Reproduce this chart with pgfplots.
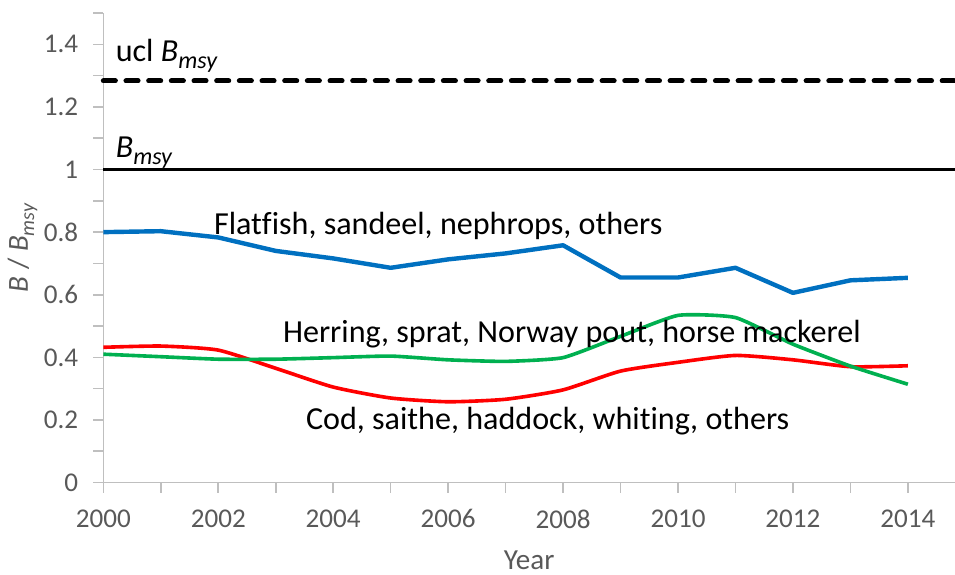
\documentclass[border=0pt]{standalone}
\usepackage{pgfplots}
\pgfplotsset{compat=1.18}
\usepackage{fontspec}
\setmainfont{Carlito}[Ligatures={NoCommon}]
\definecolor{tickgray}{HTML}{595959}
\definecolor{axgray}{HTML}{BFBFBF}
\definecolor{cblue}{HTML}{0070C0}
\definecolor{cred}{HTML}{FF0000}
\definecolor{cgreen}{HTML}{00B050}
\newcommand{\msy}[1]{\textit{B}\raisebox{-0.45ex}{\fontsize{#1}{#1}\selectfont\textit{msy}}}
\begin{document}
\begin{tikzpicture}
\begin{axis}[
  name=ax,
  scale only axis,
  width=424.5pt, height=234pt,
  xmin=2000, xmax=2014.82,
  ymin=0, ymax=1.5,
  axis lines=left,
  axis line style={axgray, line width=0.8pt, -},
  xtick={2000,2002,...,2014},
  minor xtick={2001,2003,...,2013},
  ytick={0,0.2,...,1.4},
  minor ytick={0.1,0.3,...,1.5},
  tick align=outside,
  major tick length=5pt, minor tick length=5pt,
  tick style={axgray, line width=0.8pt},
  xtick pos=bottom, ytick pos=left,
  /pgf/number format/assume math mode=true,
  /pgf/number format/1000 sep={},
  /pgf/number format/fixed,
  ticklabel style={font=\fontsize{13.5}{15}\selectfont, text=tickgray},
  yticklabel style={xshift=-4pt},
  xticklabel style={yshift=-5pt},
  xlabel={Year},
  ylabel={\textit{B} / \msy{10}},
  label style={font=\fontsize{14.5}{16}\selectfont, text=tickgray},
  xlabel style={at={(axis description cs:0.5,-0.165)}, anchor=center},
  ylabel style={at={(axis description cs:-0.095,0.5)}, anchor=center},
  clip=false,
]
\addplot[black, line width=2.5pt, line cap=round, dash pattern=on 6pt off 5.3pt] coordinates {(2000,1.283) (2014.82,1.283)};
\addplot[black, line width=1.7pt] coordinates {(2000,1.0) (2014.82,1.0)};
\addplot[cblue, line width=2.2pt, line join=round] coordinates {
(2000,0.800) (2001,0.803) (2002,0.783) (2003,0.740) (2004,0.716) (2005,0.686)
(2006,0.713) (2007,0.732) (2008,0.758) (2009,0.655) (2010,0.655) (2011,0.686)
(2012,0.606) (2013,0.646) (2014,0.654)};
\addplot[cred, line width=1.8pt, smooth, tension=0.35] coordinates {
(2000,0.432) (2001,0.436) (2002,0.423) (2003,0.365) (2004,0.305) (2005,0.270)
(2006,0.258) (2007,0.266) (2008,0.296) (2009,0.356) (2010,0.384) (2011,0.406)
(2012,0.392) (2013,0.370) (2014,0.373)};
\addplot[cgreen, line width=1.8pt, smooth, tension=0.3] coordinates {
(2000,0.410) (2001,0.402) (2002,0.394) (2003,0.394) (2004,0.399) (2005,0.404)
(2006,0.392) (2007,0.387) (2008,0.399) (2009,0.467) (2010,0.534) (2011,0.527)
(2012,0.442) (2013,0.372) (2014,0.314)};
\node[anchor=base west, inner sep=0pt, font=\fontsize{16}{18}\selectfont] at (axis cs:2000.21,1.344) {ucl \msy{12}};
\node[anchor=base west, inner sep=0pt, font=\fontsize{16}{18}\selectfont] at (axis cs:2000.21,1.037) {\msy{12}};
\node[anchor=base west, inner sep=0pt, font=\fontsize{16}{18}\selectfont] at (axis cs:2001.92,0.794) {Flatfish, sandeel, nephrops, others};
\node[anchor=base west, inner sep=0pt, font=\fontsize{16}{18}\selectfont] at (axis cs:2003.12,0.446) {Herring, sprat, Norway pout, horse mackerel};
\node[anchor=base west, inner sep=0pt, font=\fontsize{16}{18}\selectfont] at (axis cs:2003.52,0.170) {Cod, saithe, haddock, whiting, others};
\end{axis}
\pgfresetboundingbox
\path ([shift={(-51.5pt,-46pt)}]ax.south west) rectangle ([shift={(0pt,6.5pt)}]ax.north east);
\end{tikzpicture}
\end{document}
